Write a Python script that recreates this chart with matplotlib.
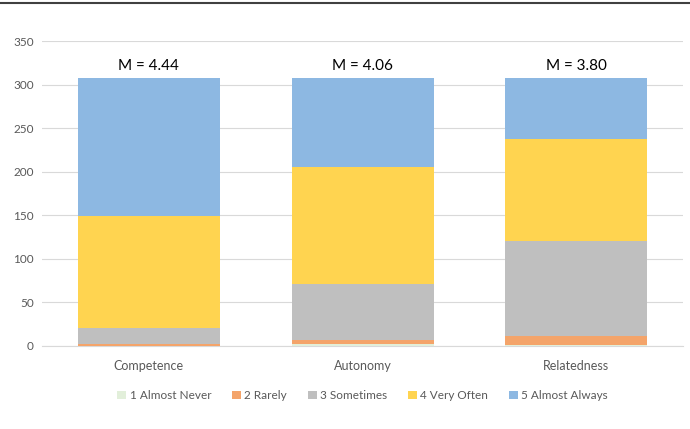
import matplotlib
matplotlib.use("Agg")
import matplotlib.pyplot as plt
from matplotlib.lines import Line2D
import numpy as np

plt.rcParams['font.family'] = ['Lato', 'DejaVu Sans']

categories = ["Competence", "Autonomy", "Relatedness"]
series_names = ["1 Almost Never", "2 Rarely", "3 Sometimes", "4 Very Often", "5 Almost Always"]
almost_never = [0, 2, 1]
rarely = [2, 5, 10]
sometimes = [19, 64, 110]
very_often = [128, 135, 117]
almost_always = [159, 102, 70]
mean_labels = ["M = 4.44", "M = 4.06", "M = 3.80"]
yticks = [0, 50, 100, 150, 200, 250, 300, 350]

colors = ["#E2EFDA", "#F4A46A", "#BFBFBF", "#FFD450", "#8DB8E2"]

fig = plt.figure(figsize=(6.9, 4.29), dpi=100)
ax = fig.add_axes([0.061, 0.1935, 0.929, 0.7105])

x = np.arange(len(categories))
bottom = np.zeros(len(categories))
for name, vals, c in zip(series_names, [almost_never, rarely, sometimes, very_often, almost_always], colors):
    ax.bar(x, vals, width=0.665, bottom=bottom, color=c, label=name, zorder=3)
    bottom += np.array(vals)

for xi, tot, lab in zip(x, bottom, mean_labels):
    ax.text(xi, tot + 5, lab, ha='center', va='bottom', fontsize=11, color='#000000')

ax.set_xlim(-0.5, 2.5)
ax.set_ylim(0, 350)
ax.set_yticks(yticks)
ax.set_xticks(x)
ax.set_xticklabels(categories)
ax.grid(axis='y', color='#D9D9D9', linewidth=0.8, zorder=0)
for s in ['top', 'right', 'left']:
    ax.spines[s].set_visible(False)
ax.spines['bottom'].set_color('#D9D9D9')
ax.tick_params(axis='both', length=0, colors='#595959', labelsize=8.5, pad=6)
ax.tick_params(axis='x', labelsize=9, pad=10)

ax.legend(loc='upper center', bbox_to_anchor=(0.5, -0.11), ncol=5, frameon=False,
          fontsize=8.5, handlelength=0.75, handleheight=0.75, handletextpad=0.3,
          columnspacing=1.75, labelcolor='#595959')

fig.add_artist(Line2D([0, 1], [1 - 3/429, 1 - 3/429], color='#404040', linewidth=1.5, transform=fig.transFigure))

fig.savefig("out.png", dpi=100)
